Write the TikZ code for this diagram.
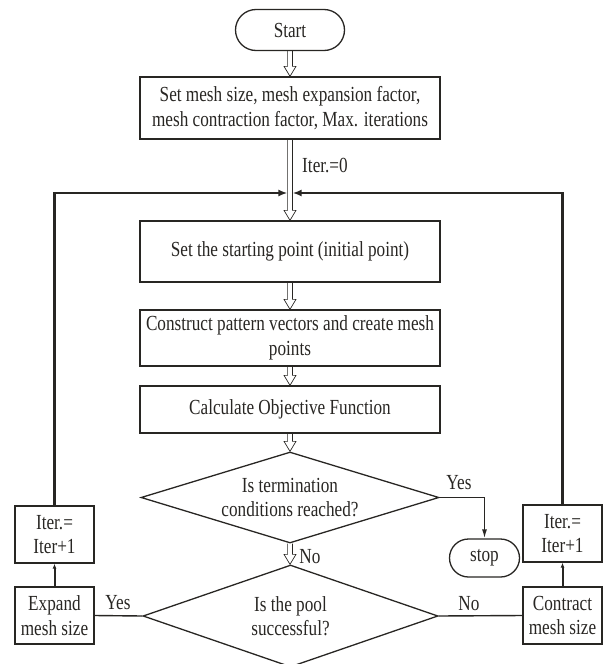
\documentclass[tikz,border=0pt]{standalone}
\usepackage{fontspec}
\setmainfont[FakeStretch=0.80]{Liberation Serif}
\usetikzlibrary{shapes.geometric,shapes.misc,arrows.meta,calc}
\definecolor{ink}{RGB}{40,38,35}
\newcommand\flowfont{\fontsize{21.5pt}{24.5pt}\selectfont}
\begin{document}
\begin{tikzpicture}[x=1pt,y=-1pt,
  every node/.style={font=\flowfont, text=ink},
  procbox/.style={draw=ink, line width=1.3pt, rectangle, inner sep=2pt, align=center, minimum width=300},
  smallbox/.style={draw=ink, line width=1.3pt, rectangle, inner sep=1pt, align=center, minimum width=79, minimum height=57},
  terminal/.style={draw=ink, line width=1.3pt, rounded rectangle, inner sep=1pt, align=center},
  decision/.style={draw=ink, line width=1.3pt, diamond, inner sep=0pt, align=center},
  hollow/.style={draw=ink, line width=0.7pt, to path={let \p1=(\tikztostart), \p2=(\tikztotarget) in
     (\x1-2.4pt,\y1) -- (\x1-2.4pt,\y2+10pt) -- (\x1-6pt,\y2+10pt) -- (\x1,\y2) -- (\x1+6pt,\y2+10pt) -- (\x1+2.4pt,\y2+10pt) -- (\x1+2.4pt,\y1)}},
  loopline/.style={draw=ink, line width=2.6pt, -{Latex[length=9pt,width=7pt]}},
  thinarrow/.style={draw=ink, line width=1.4pt, -{Latex[length=9pt,width=5pt]}},
  smallarrow/.style={draw=ink, line width=2pt, -{Latex[length=5pt,width=4pt]}},
  plainline/.style={draw=ink, line width=1.4pt},
  lbl/.style={inner sep=0pt}
]
\useasboundingbox (0,0) rectangle (606,664);

\node[terminal, minimum width=111, minimum height=41] (start) at (290,30) {Start};
\node[procbox, minimum height=62] (init) at (290,108) {Set mesh size, mesh expansion factor,\\mesh contraction factor, Max. iterations};
\node[procbox, minimum height=61] (spt) at (290,251.5) {Set the starting point (initial point)};
\node[procbox, minimum height=56] (pat) at (290,338) {Construct pattern vectors and create mesh\\points};
\node[procbox, minimum height=47] (obj) at (290,409.5) {Calculate Objective Function};
\node[decision, aspect=3.27, minimum width=298, minimum height=91] (term) at (290,497.5) {Is termination\\conditions reached?};
\node[terminal, minimum width=72, minimum height=38] (stop) at (484.5,558) {stop};
\node[decision, aspect=2.9, minimum width=295, minimum height=102] (pool) at (290.5,616) {Is the pool\\successful?};
\node[smallbox] (iterL) at (54.5,534.5) {Iter.=\\Iter+1};
\node[smallbox] (expand) at (54.5,615.5) {Expand\\mesh size};
\node[smallbox] (iterR) at (562.5,533.5) {Iter.=\\Iter+1};
\node[smallbox] (contract) at (562.5,615.5) {Contract\\mesh size};

\node[lbl] (iter0) at (325,165) {Iter.=0};
\node[lbl] (no1) at (310,557) {No};
\node[lbl] (yes1) at (459,483) {Yes};
\node[lbl] (yes2) at (118,603) {Yes};
\node[lbl] (no2) at (469,604) {No};

\draw[hollow] (start.south) to (init.north);
\draw[hollow] (init.south) to (spt.north);
\draw[hollow] (spt.south) to (pat.north);
\draw[hollow] (pat.south) to (obj.north);
\draw[hollow] (obj.south) to (term.north);
\draw[hollow] (term.south) to (pool.north);

\coordinate (jL) at (287.4,193);
\coordinate (jR) at (292.6,193);
\draw[loopline] (iterL.north) |- (jL);
\draw[loopline] (iterR.north) |- (jR);

\draw[thinarrow] (term.east) -| (stop.north);
\draw[plainline] (pool.west) -- (expand.east);
\draw[plainline] (pool.east) -- (contract.west);
\draw[smallarrow] (expand.north) -- (iterL.south);
\draw[smallarrow] (contract.north) -- (iterR.south);
\end{tikzpicture}
\end{document}
